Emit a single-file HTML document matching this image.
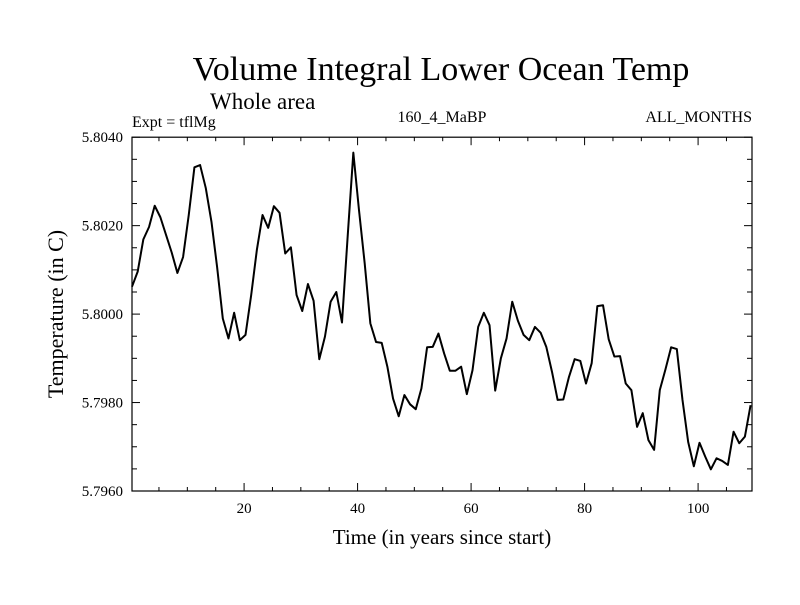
<!DOCTYPE html>
<html><head><meta charset="utf-8"><style>
body{margin:0;background:#fff;}
svg text{font-family:"Liberation Serif",serif;fill:#000;}
</style></head><body>
<svg id="chart" width="800" height="600" xmlns="http://www.w3.org/2000/svg">
<text x="441" y="80" font-size="34" text-anchor="middle">Volume Integral Lower Ocean Temp</text>
<text x="210" y="109" font-size="23">Whole area</text>
<text x="132" y="127" font-size="16">Expt = tflMg</text>
<text x="442" y="122" font-size="16" text-anchor="middle">160_4_MaBP</text>
<text x="752" y="122" font-size="16" text-anchor="end">ALL_MONTHS</text>
<text x="442" y="544" font-size="21" text-anchor="middle">Time (in years since start)</text>
<text transform="translate(63,314) rotate(-90)" font-size="22" text-anchor="middle">Temperature (in C)</text>
<g id="axes"></g>
<path id="series" fill="none" stroke="#000" stroke-width="2" stroke-linejoin="round"/>
</svg>
<script>
const years = [];
const temps = [6.2,9.6,16.9,19.7,24.5,21.9,17.9,13.9,9.3,12.9,22.4,33.2,33.7,28.5,20.9,10.6,-1.0,-5.5,0.3,-5.9,-4.7,4.3,14.5,22.4,19.5,24.4,22.9,13.7,15.1,4.3,0.7,6.8,3.0,-10.2,-5.1,2.8,5.0,-1.9,17.5,36.5,23.5,11.5,-2.1,-6.3,-6.5,-11.9,-19.1,-23.1,-18.3,-20.4,-21.5,-16.8,-7.5,-7.4,-4.4,-8.9,-12.8,-12.8,-11.9,-18.1,-12.7,-2.9,0.3,-2.5,-17.3,-10.0,-5.5,2.8,-1.5,-4.7,-5.9,-2.9,-4.2,-7.4,-13.0,-19.4,-19.3,-14.2,-10.2,-10.6,-15.7,-11.1,1.8,2.0,-5.7,-9.6,-9.5,-15.7,-17.2,-25.5,-22.4,-28.5,-30.7,-17.2,-12.5,-7.5,-7.9,-19.4,-28.9,-34.4,-29.1,-32.2,-35.1,-32.6,-33.2,-34.1,-26.6,-29.2,-27.7,-20.6];
for (let i = 0; i < temps.length; i++) years.push(i + 0.25);
const xTicks = [20, 40, 60, 80, 100];
const yTicks = [5.7960, 5.7980, 5.8000, 5.8020, 5.8040];
const yTickLabels = ["5.7960", "5.7980", "5.8000", "5.8020", "5.8040"];
const L = 132, R = 752, T = 137.2, B = 491;
const xMin = 0.25, xMax = 109.5, yMin = 5.7960, yMax = 5.8040;
function xs(v){ return L + (v - xMin) / (xMax - xMin) * (R - L); }
function ys(v){ return B - (v - yMin) / (yMax - yMin) * (B - T); }
const NS = "http://www.w3.org/2000/svg";
const g = document.getElementById('axes');
function line(x1,y1,x2,y2,name){
  const l = document.createElementNS(NS,'line');
  l.setAttribute('x1',x1);l.setAttribute('y1',y1);l.setAttribute('x2',x2);l.setAttribute('y2',y2);
  l.setAttribute('stroke','#000');l.setAttribute('stroke-width','1');
  
  
  g.appendChild(l);
}
const frame = document.createElementNS(NS,'rect');
frame.setAttribute('x',L);frame.setAttribute('y',T);frame.setAttribute('width',R-L);frame.setAttribute('height',B-T);
frame.setAttribute('fill','none');frame.setAttribute('stroke','#000');frame.setAttribute('stroke-width','1.2');


g.appendChild(frame);
for (let v = 5; v <= 105; v += 5) {
  const x = xs(v); const len = (v % 20 === 0) ? 8 : 4;
  line(x,B,x,B-len,'x-tick');
  line(x,T,x,T+len,'x-tick-top');
}
for (let k = 0; k <= 16; k++) {
  const v = yMin + k * 0.0005; const y = ys(v); const len = (k % 4 === 0) ? 8 : 5;
  line(L,y,L+len,y,'y-tick');
  line(R,y,R-len,y,'y-tick-right');
}
xTicks.forEach(v => {
  const t = document.createElementNS(NS,'text');
  t.setAttribute('x', xs(v)); t.setAttribute('y', 513);
  t.setAttribute('font-size','15'); t.setAttribute('text-anchor','middle');
  t.textContent = String(v);
  
  
  g.appendChild(t);
});
yTicks.forEach((v,i) => {
  const t = document.createElementNS(NS,'text');
  t.setAttribute('x', 123); t.setAttribute('y', ys(v) + 5);
  t.setAttribute('font-size','15'); t.setAttribute('text-anchor','end');
  t.textContent = yTickLabels[i];
  
  
  g.appendChild(t);
});
let d = '';
years.forEach((yr,i) => {
  const v = 5.8000 + temps[i] * 0.0001;
  d += (i ? 'L' : 'M') + xs(yr).toFixed(2) + ',' + ys(v).toFixed(2);
});
document.getElementById('series').setAttribute('d', d);
</script>
</body></html>
